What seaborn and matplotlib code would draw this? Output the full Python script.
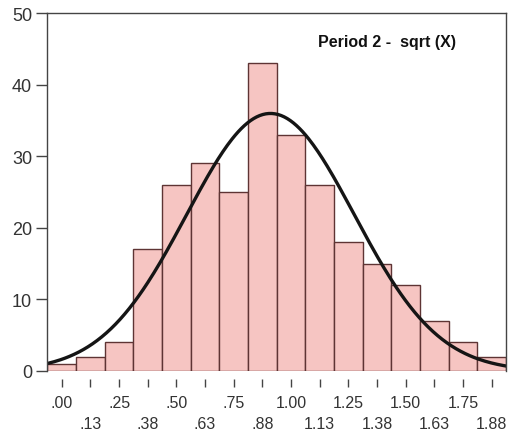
import numpy as np
import pandas as pd
import matplotlib
matplotlib.use("Agg")
import matplotlib.pyplot as plt
import seaborn as sns

# Data
bin_centers = [0.0, 0.125, 0.25, 0.375, 0.5, 0.625, 0.75, 0.875,
               1.0, 1.125, 1.25, 1.375, 1.5, 1.625, 1.75, 1.875]
counts = [1, 2, 4, 17, 26, 29, 25, 43, 33, 26, 18, 15, 12, 7, 4, 2]
tick_values = [0.0, 0.125, 0.25, 0.375, 0.5, 0.625, 0.75, 0.875,
               1.0, 1.125, 1.25, 1.375, 1.5, 1.625, 1.75, 1.875]
tick_labels = [".00", ".13", ".25", ".38", ".50", ".63", ".75", ".88",
               "1.00", "1.13", "1.25", "1.38", "1.50", "1.63", "1.75", "1.88"]
curve_mean = 0.91
curve_sd = 0.366
title_text = "Period 2 -  sqrt (X)"

sns.set_style("white")
plt.rcParams["font.family"] = ["Liberation Sans", "DejaVu Sans"]

bin_w = 0.125

fig = plt.figure(figsize=(5.10, 4.39), dpi=100)
ax = fig.add_axes([47.5 / 510, (439 - 372) / 439, (506 - 47.5) / 510, (372 - 14) / 439])

df = pd.DataFrame({"x": bin_centers, "n": counts})
sns.histplot(data=df, x="x", weights="n", binwidth=bin_w, binrange=(-0.0625, 1.9375), ax=ax,
             color="#f6c5c2", alpha=1.0, edgecolor="#5e3434", linewidth=1.0)

n_total = sum(counts)
xs = np.linspace(-0.06, 1.94, 300)
ys = n_total * bin_w / (curve_sd * np.sqrt(2 * np.pi)) * np.exp(-0.5 * ((xs - curve_mean) / curve_sd) ** 2)
sns.lineplot(x=xs, y=ys, ax=ax, color="#151515", linewidth=2.4)

ax.set_xlim(-0.0625, 1.9375)
ax.set_ylim(0, 50)
ax.set_yticks([0, 10, 20, 30, 40, 50])
ax.set_xticks(tick_values)
ax.set_xticklabels([lab if i % 2 == 0 else "\n" + lab for i, lab in enumerate(tick_labels)])
ax.set_xlabel("")
ax.set_ylabel("")

for s in ["left", "top", "right"]:
    ax.spines[s].set_visible(True)
    ax.spines[s].set_color("#444444")
    ax.spines[s].set_linewidth(1.0)
ax.spines["bottom"].set_position(("outward", 6))
ax.spines["bottom"].set_visible(False)

ax.tick_params(axis="y", direction="out", length=8, width=1, color="#444444",
               labelsize=13, labelcolor="#333333", left=True, pad=3)
ax.tick_params(axis="x", direction="out", length=6, width=1, color="#444444",
               labelsize=11.5, labelcolor="#333333", bottom=True, pad=5)
for lab in ax.get_xticklabels():
    lab.set_linespacing(1.55)

ax.text(0.740, 0.919, title_text, transform=ax.transAxes, ha="center", va="center",
        fontsize=11.5, fontweight="bold", color="#111111")

fig.savefig("out.png", dpi=100)
